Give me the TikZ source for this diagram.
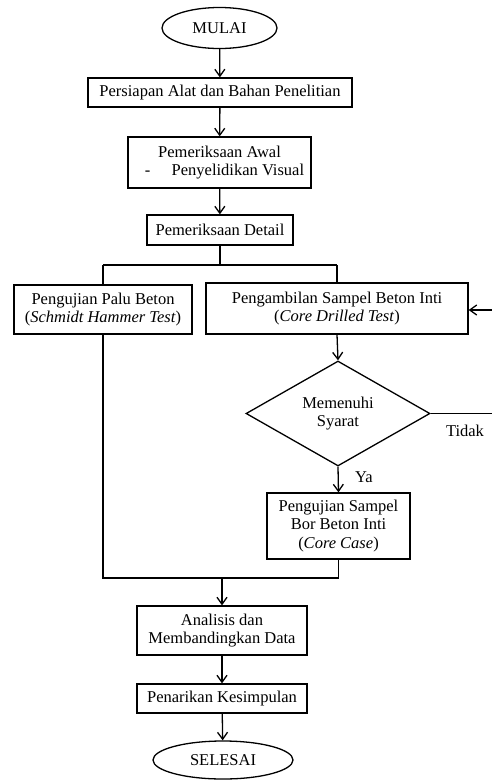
\documentclass[tikz,border=0pt]{standalone}
\usepackage{fontspec}
\setmainfont{Liberation Serif}
\usetikzlibrary{shapes.geometric,arrows.meta}
\begin{document}
\begin{tikzpicture}[x=1pt,y=-1pt,
  every node/.style={font=\fontsize{16.5}{18.5}\selectfont},
  proc/.style={draw,line width=1.3pt,align=center,inner sep=0pt},
  term/.style={draw,ellipse,line width=1.3pt,inner sep=0pt},
  decide/.style={draw,diamond,line width=1.3pt,align=center,inner sep=0pt},
  conn/.style={line width=1.3pt},
  arr/.style={conn,-{Straight Barb[length=7pt,width=10pt]}},
  lbl/.style={inner sep=0pt}]
\useasboundingbox (0,0) rectangle (491,780);
\node[term,minimum width=115pt,minimum height=41pt] (start) at (219.5,28) {MULAI};
\node[proc,minimum width=264pt,minimum height=29pt] (prep) at (220,92.5) {Persiapan Alat dan Bahan Penelitian};
\node[proc,minimum width=183pt,minimum height=51pt] (awal) at (219.5,162.5) {Pemeriksaan Awal\\[-1pt]\hspace{0.6em}-\hspace{1.3em}Penyelidikan Visual};
\node[proc,minimum width=146pt,minimum height=30pt] (detail) at (220,230) {Pemeriksaan Detail};
\node[proc,minimum width=178pt,minimum height=49pt] (palu) at (103,309.5) {Pengujian Palu Beton\\(\textit{Schmidt Hammer Test})};
\node[proc,minimum width=262pt,minimum height=51pt] (ambil) at (337,308.5) {Pengambilan Sampel Beton Inti\\(\textit{Core Drilled Test})};
\node[decide,minimum width=184pt,minimum height=99pt] (syarat) at (338,413.5) {Memenuhi\\Syarat};
\node[proc,minimum width=143pt,minimum height=66pt] (bor) at (338.5,526) {Pengujian Sampel\\Bor Beton Inti\\(\textit{Core Case})};
\node[proc,minimum width=170pt,minimum height=49pt] (analisis) at (222,630.5) {Analisis dan\\Membandingkan Data};
\node[proc,minimum width=170pt,minimum height=29pt] (tarik) at (222,698.5) {Penarikan Kesimpulan};
\node[term,minimum width=140pt,minimum height=38pt] (end) at (223,760) {SELESAI};
\node[lbl] (tidak) at (465,431) {Tidak};
\node[lbl] (ya) at (364,477) {Ya};
\coordinate (split) at (220,265);
\coordinate (splitL) at (103,265);
\coordinate (splitR) at (337,265);
\coordinate (joinL) at (103,578);
\coordinate (joinR) at (338.5,578);
\coordinate (join) at (222,578);
\coordinate (loopA) at (496,413.5);
\coordinate (loopB) at (496,310);
\draw[arr] (start) -- (prep);
\draw[arr] (prep) -- (awal);
\draw[arr] (awal) -- (detail);
\draw[conn] (detail) -- (split);
\draw[conn] (splitL) -- (splitR);
\draw[conn] (splitL) -- (palu.north);
\draw[conn] (splitR) -- (ambil.north);
\draw[arr] (ambil.south) -- (syarat.north);
\draw[arr] (syarat.south) -- (bor.north);
\draw[arr] (syarat.east) -- (loopA) -- (loopB) -- (ambil.east |- loopB);
\draw[conn] (palu.south) -- (joinL) -- (joinR) -- (bor.south);
\draw[arr] (join) -- (analisis);
\draw[arr] (analisis) -- (tarik);
\draw[arr] (tarik) -- (end);
\end{tikzpicture}
\end{document}
